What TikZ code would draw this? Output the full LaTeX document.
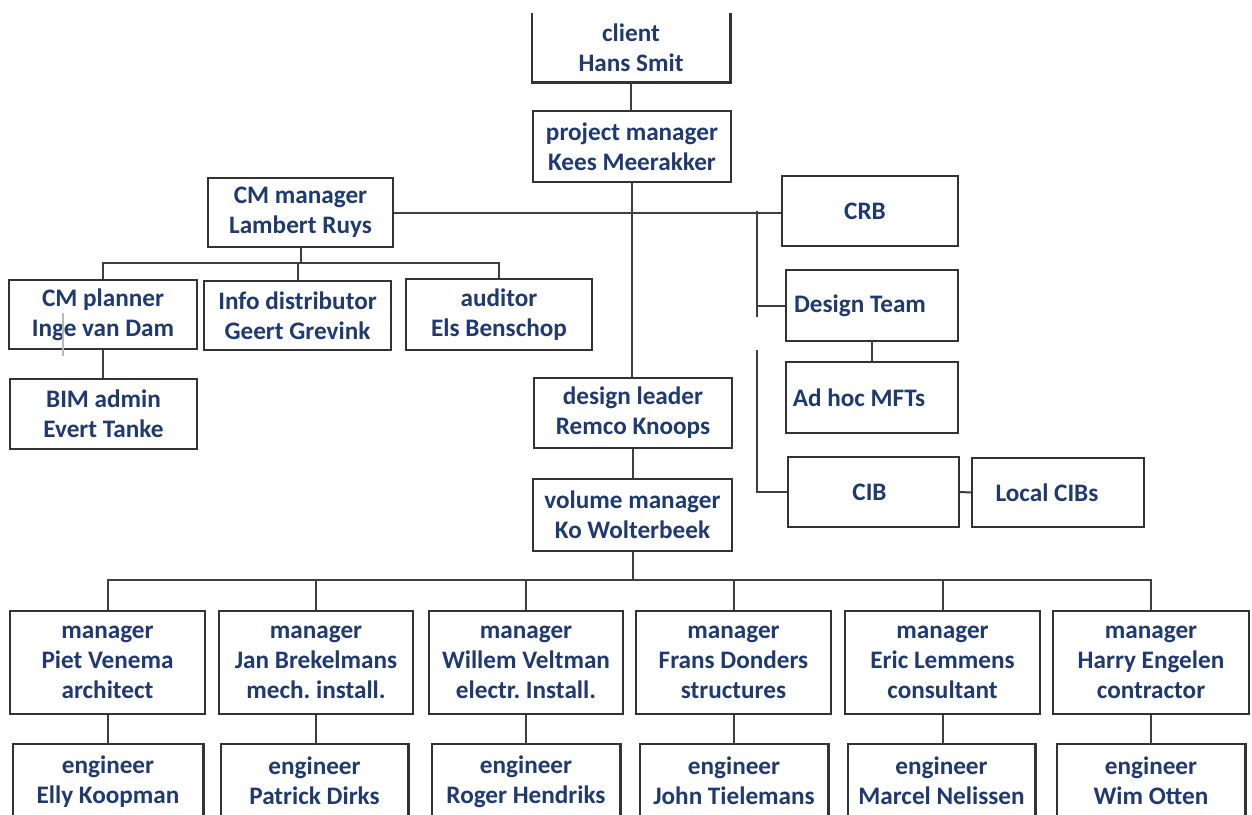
\documentclass[tikz,border=0pt]{standalone}
\usepackage{fontspec}
\setmainfont{Carlito}
\frenchspacing
\definecolor{navy}{HTML}{1F3A70}
\definecolor{edge}{HTML}{333333}
\definecolor{wirec}{HTML}{3E3E3E}
\begin{document}
\begin{tikzpicture}[x=0.5pt,y=-0.5pt,
  txt/.style={inner sep=0pt, align=center, text=navy,
    font=\fontsize{12.6}{15}\selectfont\bfseries\frenchspacing},
  box/.style 2 args={txt, draw=edge, line width=1.1pt, fill=white,
    minimum width=#1*0.5pt, minimum height=#2*0.5pt},
  openbox/.style 2 args={txt, minimum width=#1*0.5pt, minimum height=#2*0.5pt},
  frame/.style={draw=edge, line width=1.1pt},
  wire/.style={draw=wirec, line width=1pt}]
\useasboundingbox (0,0) rectangle (1252,814);
\clip (0,0) rectangle (1252,814);

% top of the chart
\node[openbox={198}{69}] (client) at (631,47.5) {client\\Hans Smit};
\draw[frame] (client.north west) -- (client.south west) -- (client.south east) -- (client.north east);
\node[box={198}{71}] (pm) at (632,146.5) {project manager\\Kees Meerakker};

% construction management branch
\node[box={185}{69}] (cmm) at (300.5,212.5) {CM manager\\Lambert Ruys};
\node[box={188}{69}] (planner) at (103,314.5) {CM planner\\Inge van Dam};
\node[box={187}{69}] (info) at (297.5,315.5) {Info distributor\\Geert Grevink};
\node[box={186}{71}] (auditor) at (499,314.5) {auditor\\Els Benschop};
\node[box={187}{70}] (bim) at (103.5,414) {BIM admin\\Evert Tanke};

% boards and teams on the right
\node[box={176}{70}] (crb) at (870,211) {CRB\hspace*{5pt}};
\node[box={172}{71}] (dteam) at (872,305.5) {Design Team\hspace*{12pt}};
\node[box={172}{71}] (adhoc) at (872,397.5) {Ad hoc MFTs\hspace*{13pt}};
\node[box={171}{70}] (cib) at (873.5,492) {CIB\hspace*{4pt}};
\node[box={172}{69}] (lcib) at (1058,492.5) {Local CIBs\hspace*{11pt}};

% design line
\node[box={198}{70}] (dl) at (633,413) {design leader\\Remco Knoops};
\node[box={199}{72}] (vm) at (632.5,515) {volume manager\\Ko Wolterbeek};

% discipline managers
\node[box={195}{103}] (m1) at (107.5,662.5) {manager\\Piet Venema\\architect};
\node[box={194}{103}] (m2) at (316,662.5) {manager\\Jan Brekelmans\\mech. install.};
\node[box={194}{103}] (m3) at (526,662.5) {manager\\Willem Veltman\\electr. Install.};
\node[box={195}{103}] (m4) at (733.5,662.5) {manager\\Frans Donders\\structures};
\node[box={195}{103}] (m5) at (942.5,662.5) {manager\\Eric Lemmens\\consultant};
\node[box={196}{103}] (m6) at (1151,662.5) {manager\\Harry Engelen\\contractor};

% engineers (boxes run off the lower edge)
\node[openbox={190}{74}] (e1) at (108,782) {engineer\\Elly Koopman};
\node[openbox={187}{74}] (e2) at (314.5,781) {engineer\\Patrick Dirks};
\node[openbox={188}{74}] (e3) at (526,782) {engineer\\Roger Hendriks};
\node[openbox={188}{74}] (e4) at (734,781) {engineer\\John Tielemans};
\node[openbox={187}{74}] (e5) at (941.5,781) {engineer\\Marcel Nelissen};
\node[openbox={188}{74}] (e6) at (1151,781) {engineer\\Wim Otten};
\foreach \e in {e1,e2,e3,e4,e5,e6}
  \draw[frame] (\e.west |- 0,820) -- (\e.west |- 0,744) -- (\e.east |- 0,744) -- (\e.east |- 0,820);

% connectors
\draw[wire] (client.south) -- (client.south |- pm.north);
\draw[wire] (pm.south) -- (pm.south |- dl.north);
\draw[wire] (cmm.east) -- (cmm.east -| crb.west);

\coordinate (rtop) at (757,211);
\coordinate (rmid) at (757,317);
\coordinate (rlow) at (757,350);
\draw[wire] (rtop) -- (rmid);
\draw[wire] (rtop |- dteam.west) -- (dteam.west);
\draw[wire] (rlow) -- (rlow |- cib.west) -- (cib.west);
\draw[wire] (dteam.south) -- (adhoc.north);
\draw[wire] (cib.east) -- (lcib.west);

\coordinate (cmbus) at (299,263);
\draw[wire] (cmm.south) -- (cmm.south |- cmbus);
\draw[wire] (planner.north) -- (planner.north |- cmbus) -- (auditor.north |- cmbus) -- (auditor.north);
\draw[wire] (info.north) -- (info.north |- cmbus);
\draw[wire] (planner.south) -- (planner.south |- bim.north);
\draw[gray!55, line width=1pt] (63,313) -- (63,356);

\draw[wire] (dl.south) -- (dl.south |- vm.north);
\coordinate (vbus) at (631,580);
\draw[wire] (vm.south) -- (vm.south |- vbus);
\draw[wire] (m1.north) -- (m1.north |- vbus) -- (m6.north |- vbus) -- (m6.north);
\foreach \m in {m2,m3,m4,m5}
  \draw[wire] (\m.north) -- (\m.north |- vbus);
\foreach \m in {m1,m2,m3,m4,m5,m6}
  \draw[wire] (\m.south) -- (\m.south |- 0,744);
\end{tikzpicture}
\end{document}
